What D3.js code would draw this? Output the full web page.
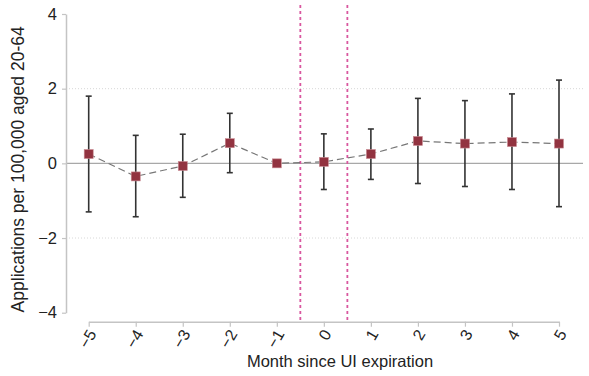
<!DOCTYPE html>
<html>
<head>
<meta charset="utf-8">
<script src="https://cdn.jsdelivr.net/npm/d3@7"></script>
<style>
  html, body { margin: 0; padding: 0; background: #fff; }
  svg { display: block; font-family: "Liberation Sans", Arial, sans-serif; }
</style>
</head>
<body>
<svg id="chart" width="589" height="376"></svg>
<script>
// Event-study estimates: month relative to UI expiration
const months   = [-5, -4, -3, -2, -1, 0, 1, 2, 3, 4, 5];
const estimate = [0.25, -0.35, -0.07, 0.54, 0.0, 0.04, 0.25, 0.60, 0.53, 0.57, 0.53];
const ciLow    = [-1.30, -1.43, -0.91, -0.25, null, -0.70, -0.43, -0.54, -0.62, -0.70, -1.16];
const ciHigh   = [1.80, 0.75, 0.78, 1.34, null, 0.79, 0.92, 1.74, 1.68, 1.86, 2.23];
const yTicks   = [-4, -2, 0, 2, 4];
const gridAt   = [-2, 2];
const windowEdges = [-0.5, 0.5];

const svg = d3.select("#chart");

// plot geometry
const plotLeft = 66, plotRight = 583;
const x = d3.scaleLinear().domain([-5, 5]).range([88.7, 559]);
const y = d3.scaleLinear().domain([-4, 4]).range([312.7, 14]);
const xAxisY = 321.7;

// dotted gridlines
svg.append("g").selectAll("line").data(gridAt).join("line")
  .attr("x1", plotLeft).attr("x2", plotRight)
  .attr("y1", d => y(d)).attr("y2", d => y(d))
  .attr("stroke", "#d8d8d8").attr("stroke-width", 1)
  .attr("stroke-dasharray", "1,2");

// zero reference line
svg.append("line")
  .attr("x1", plotLeft).attr("x2", plotRight)
  .attr("y1", y(0)).attr("y2", y(0))
  .attr("stroke", "#a8a8a8").attr("stroke-width", 1.2);

// expiration window markers
svg.append("g").selectAll("line").data(windowEdges).join("line")
  .attr("x1", d => x(d)).attr("x2", d => x(d))
  .attr("y1", 5).attr("y2", xAxisY)
  .attr("stroke", "#d9579f").attr("stroke-width", 1.8)
  .attr("stroke-dasharray", "3,3");

// y axis
const yAxis = svg.append("g")
  .attr("transform", `translate(${plotLeft},0)`)
  .call(d3.axisLeft(y).tickValues(yTicks).tickSize(4).tickSizeOuter(0).tickPadding(5));
yAxis.select(".domain").attr("stroke", "#c4c4c4").attr("stroke-width", 1.5);
yAxis.selectAll(".tick line").attr("stroke", "#c4c4c4").attr("stroke-width", 1.2);
yAxis.selectAll(".tick text").attr("font-size", 16.5).attr("fill", "#222")
  .attr("font-family", "Liberation Sans, Arial, sans-serif");

// x axis
const xAxis = svg.append("g")
  .attr("transform", `translate(0,${xAxisY})`)
  .call(d3.axisBottom(x).tickValues(months).tickFormat(d3.format("d")).tickSize(5).tickSizeOuter(0));
xAxis.select(".domain").attr("stroke", "#c4c4c4").attr("stroke-width", 1.5);
xAxis.selectAll(".tick line").attr("stroke", "#c4c4c4").attr("stroke-width", 1.2);
xAxis.selectAll(".tick text")
  .attr("font-size", 16).attr("fill", "#222")
  .attr("font-family", "Liberation Sans, Arial, sans-serif")
  .attr("text-anchor", "end")
  .attr("dy", null)
  .attr("y", 0)
  .attr("transform", "translate(4,10) rotate(-60)")
  .attr("dominant-baseline", "middle");

// axis titles
svg.append("text")
  .attr("transform", `translate(24,${(y(-4) + y(4)) / 2 + 6}) rotate(-90)`)
  .attr("text-anchor", "middle")
  .attr("font-size", 17.5).attr("fill", "#222")
  .text("Applications per 100,000 aged 20-64");

svg.append("text")
  .attr("x", 340).attr("y", 367)
  .attr("text-anchor", "middle")
  .attr("font-size", 16.5).attr("fill", "#222")
  .text("Month since UI expiration");

const rows = months.map((m, i) => ({ m, est: estimate[i], lo: ciLow[i], hi: ciHigh[i] }));

// dashed connecting line
svg.append("path")
  .datum(rows)
  .attr("fill", "none")
  .attr("stroke", "#777")
  .attr("stroke-width", 1.2)
  .attr("stroke-dasharray", "7,4")
  .attr("d", d3.line().x(d => x(d.m)).y(d => y(d.est)));

// confidence intervals
const ci = svg.append("g").selectAll("g").data(rows.filter(d => d.lo !== null)).join("g")
  .attr("stroke", "#333").attr("stroke-width", 1.6);
ci.append("line")
  .attr("x1", d => x(d.m)).attr("x2", d => x(d.m))
  .attr("y1", d => y(d.lo)).attr("y2", d => y(d.hi));
ci.append("line")
  .attr("x1", d => x(d.m) - 3).attr("x2", d => x(d.m) + 3)
  .attr("y1", d => y(d.lo)).attr("y2", d => y(d.lo));
ci.append("line")
  .attr("x1", d => x(d.m) - 3).attr("x2", d => x(d.m) + 3)
  .attr("y1", d => y(d.hi)).attr("y2", d => y(d.hi));

// point estimates
const s = 9;
svg.append("g").selectAll("rect").data(rows).join("rect")
  .attr("x", d => x(d.m) - s / 2).attr("y", d => y(d.est) - s / 2)
  .attr("width", s).attr("height", s)
  .attr("fill", "#923340")
  .attr("stroke", "#c98a92").attr("stroke-width", 0.6);
</script>
</body>
</html>
